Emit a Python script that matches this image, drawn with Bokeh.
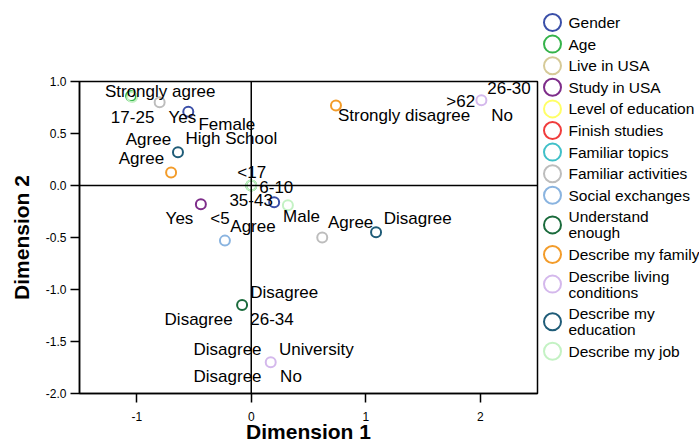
from bokeh.plotting import figure
from bokeh.layouts import row
from bokeh.models import Range1d, Span, FixedTicker, CustomJSTickFormatter, ColumnDataSource
from bokeh.core.properties import value
from bokeh.embed import file_html
from bokeh.resources import INLINE

FONT = "Liberation Sans"

# ---- data -------------------------------------------------------------
series_names = ["Gender", "Age", "Live in USA", "Study in USA", "Level of education",
                "Finish studies", "Familiar topics", "Familiar activities", "Social exchanges",
                "Understand enough", "Describe my family", "Describe living conditions",
                "Describe my education", "Describe my job"]
series_colors = ["#3a4fa8", "#35b34a", "#d6ca98", "#7e2d8a", "#ffff66",
                 "#f03c3c", "#40c0c8", "#bdbdbd", "#8ab4e0",
                 "#1a6b3c", "#f39c2a", "#d4b8ec", "#1f5c78", "#c4f2c4"]
legend_lines = [["Gender"], ["Age"], ["Live in USA"], ["Study in USA"], ["Level of education"],
                ["Finish studies"], ["Familiar topics"], ["Familiar activities"], ["Social exchanges"],
                ["Understand", "enough"], ["Describe my family"], ["Describe living", "conditions"],
                ["Describe my", "education"], ["Describe my job"]]

series_x = {
    "Gender": [-0.55, 0.20],
    "Age": [-1.05, 0.0],
    "Live in USA": [],
    "Study in USA": [-0.44],
    "Level of education": [],
    "Finish studies": [],
    "Familiar topics": [],
    "Familiar activities": [-0.80, 0.62],
    "Social exchanges": [-0.23],
    "Understand enough": [-0.08],
    "Describe my family": [-0.70, 0.74],
    "Describe living conditions": [2.01, 0.17],
    "Describe my education": [-0.64, 1.09],
    "Describe my job": [-1.04, 0.0, 0.32],
}
series_y = {
    "Gender": [0.71, -0.16],
    "Age": [0.86, 0.0],
    "Live in USA": [],
    "Study in USA": [-0.18],
    "Level of education": [],
    "Finish studies": [],
    "Familiar topics": [],
    "Familiar activities": [0.80, -0.50],
    "Social exchanges": [-0.53],
    "Understand enough": [-1.15],
    "Describe my family": [0.125, 0.77],
    "Describe living conditions": [0.82, -1.70],
    "Describe my education": [0.32, -0.45],
    "Describe my job": [0.85, 0.0, -0.19],
}

point_labels = ["Strongly agree", "17-25", "Yes", "Female", "Agree", "High School", "Agree",
                "<17", "6-10", "35-43", "Yes", "<5", "Agree", "Male", "Agree", "Disagree",
                "26-30", ">62", "Strongly disagree", "No",
                "Disagree", "Disagree", "26-34", "Disagree", "University", "Disagree", "No"]
label_x = [-1.278, -1.226, -0.722, -0.461, -1.096, -0.574, -1.157,
           -0.122, 0.070, -0.191, -0.748, -0.357, -0.183, 0.278, 0.670, 1.157,
           2.061, 1.704, 0.757, 2.096,
           -0.009, -0.757, -0.009, -0.504, 0.243, -0.504, 0.252]
label_y = [0.904, 0.654, 0.654, 0.587, 0.442, 0.452, 0.260,
           0.125, -0.010, -0.144, -0.317, -0.317, -0.394, -0.298, -0.356, -0.317,
           0.933, 0.808, 0.673, 0.673,
           -1.029, -1.288, -1.288, -1.577, -1.577, -1.837, -1.837]

x_ticks = [-1, 0, 1, 2]
y_ticks = [-2.0, -1.5, -1.0, -0.5, 0.0, 0.5, 1.0]
X0, X1 = -1.5, 2.5
Y0, Y1 = -2.0, 1.0

# ---- main plot --------------------------------------------------------
PW, H = 539, 446
p = figure(width=PW, height=H, output_backend="svg", toolbar_location=None,
           x_range=Range1d(X0, X1), y_range=Range1d(Y0, Y1),
           min_border_left=79, min_border_right=2, min_border_top=81, min_border_bottom=53)
p.background_fill_color = "white"
p.border_fill_color = "white"
p.grid.visible = False
p.outline_line_color = "black"
p.outline_line_width = 1.5

for ax in (p.xaxis[0], p.yaxis[0]):
    ax.axis_line_color = "black"
    ax.axis_line_width = 1.5
    ax.major_tick_line_color = "black"
    ax.major_tick_line_width = 1.5
    ax.minor_tick_line_color = None
    ax.major_tick_in = 0
    ax.major_label_text_font = FONT
    ax.major_label_text_font_size = "12px"
    ax.major_label_text_color = "black"
    ax.axis_label_text_font = FONT
    ax.axis_label_text_font_style = "bold"
    ax.axis_label_text_font_size = "21px"
    ax.axis_label_text_color = "black"

p.xaxis.ticker = FixedTicker(ticks=x_ticks)
p.yaxis.ticker = FixedTicker(ticks=y_ticks)
p.xaxis.formatter = CustomJSTickFormatter(code="return tick.toFixed(0);")
p.yaxis.formatter = CustomJSTickFormatter(code="return tick.toFixed(1);")
p.xaxis.major_tick_out = 9
p.yaxis.major_tick_out = 9
p.xaxis.major_label_standoff = 9
p.yaxis.major_label_standoff = 4
p.xaxis.axis_label = "Dimension 1"
p.yaxis.axis_label = "Dimension 2"
p.xaxis.axis_label_standoff = -4
p.yaxis.axis_label_standoff = 10

p.add_layout(Span(location=0, dimension="height", line_color="black", line_width=1.5))
p.add_layout(Span(location=0, dimension="width", line_color="black", line_width=1.5))

for name, color in zip(series_names, series_colors):
    xs, ys = series_x[name], series_y[name]
    if xs:
        p.scatter(xs, ys, marker="circle", size=10, line_color=color, line_width=2,
                  fill_color=None)

lsrc = ColumnDataSource(dict(x=label_x, y=label_y, t=point_labels))
p.text(x="x", y="y", text="t", source=lsrc, text_font=value(FONT), text_font_size="17px",
       text_color="black", text_align="left", text_baseline="middle")

# ---- legend panel (pixel coordinates, page x from PW to 699) ----------
LW = 699 - PW
leg = figure(width=LW, height=H, output_backend="svg", toolbar_location=None,
             x_range=Range1d(PW, 699), y_range=Range1d(H, 0),
             x_axis_type=None, y_axis_type=None, min_border=0)
leg.frame_align = False
leg.outline_line_color = None
leg.grid.visible = False
leg.background_fill_color = "white"
leg.border_fill_color = "white"

row_h = 21.6
two_line_extra = 8.0
cy = 22.0
cys, txs_y, tts = [], [], []
for lines in legend_lines:
    if len(lines) == 2:
        cy += two_line_extra
    cys.append(cy)
    if len(lines) == 1:
        txs_y.append(cy); tts.append(lines[0])
    else:
        txs_y.append(cy - 8); tts.append(lines[0])
        txs_y.append(cy + 8); tts.append(lines[1])
    cy += row_h + (two_line_extra if len(lines) == 2 else 0)

leg.scatter([552] * len(cys), cys, marker="circle", size=17,
            line_color=series_colors, line_width=2, fill_color=None)
leg.text([568] * len(tts), txs_y, text=tts, text_font=value(FONT),
         text_font_size="15.5px", text_color="black", text_align="left", text_baseline="middle")

layout = row(p, leg)
open("out.html", "w").write(file_html(layout, INLINE))
